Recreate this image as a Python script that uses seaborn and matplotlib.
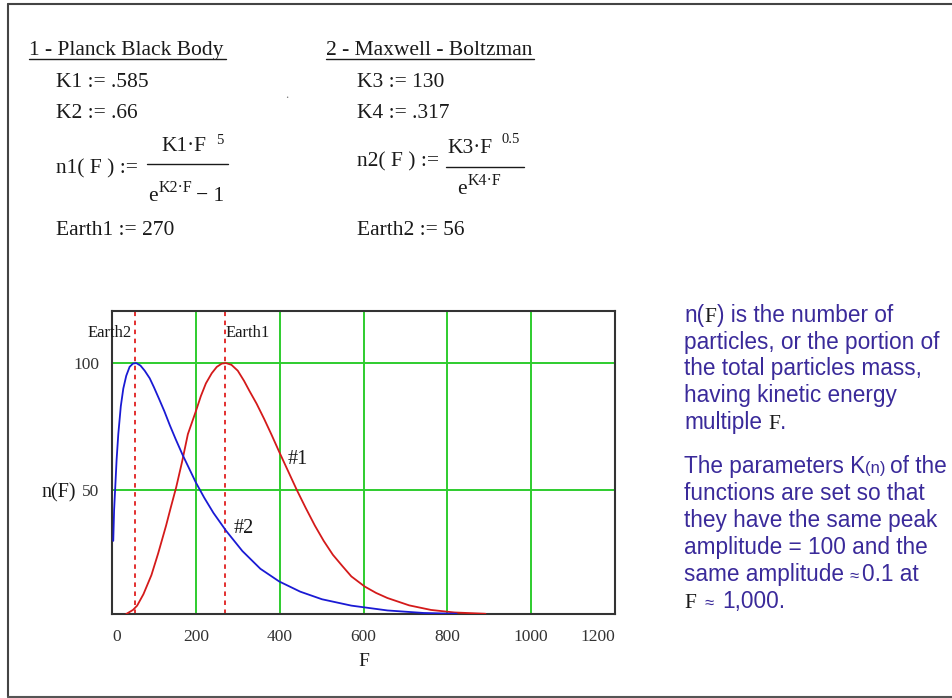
import numpy as np
import pandas as pd
import matplotlib
matplotlib.use("Agg")
import matplotlib.pyplot as plt
from matplotlib.lines import Line2D
import seaborn as sns

# ---- data ----
f_planck = [34, 50, 60, 75, 94, 110, 129, 140, 153, 167, 181, 200, 212, 224, 238, 250,
            262, 272, 285, 300, 315, 328, 345, 363, 380, 399, 420, 441, 462, 484, 505,
            527, 550, 571, 603, 630, 657, 709, 761, 817, 891]
n_planck = [1.2, 2.8, 4.5, 9, 16.5, 25, 36, 43, 51, 61, 72, 81, 87, 92, 96, 98.5,
            99.8, 100, 99.3, 97, 93, 89, 84, 78, 72, 65, 57.5, 50, 43, 36, 30,
            24.5, 20, 16, 12, 9.5, 7.5, 4.6, 2.8, 1.8, 1.3]
f_maxwell = [3, 5, 8, 11, 15, 21, 27, 34, 42, 50, 58, 68, 78, 90, 100, 112, 125, 138,
             152, 168, 184, 200, 220, 242, 272, 311, 354, 399, 449, 501, 571, 657, 744, 822]
n_maxwell = [30, 42, 52, 62, 72, 83, 90, 95, 98.5, 99.8, 100, 99, 97, 94, 90.5, 86, 81,
             75.5, 70, 64, 58.5, 53, 47, 41, 34, 26, 19, 14, 10, 7, 4.5, 2.6, 1.6, 1.3]
earth_markers = {"Earth2": 56, "Earth1": 270}
x_ticks = [0, 200, 400, 600, 800, 1000, 1200]
y_ticks = [50, 100]
curve_labels = {"#1": (420, 62), "#2": (290, 35)}

W, H = 952, 698
SERIF = "Liberation Serif"
SANS = "Liberation Sans"
INK = "#1a1a1a"
PURPLE = "#3a2a9a"

sns.set_theme(style="white")
plt.rcParams["font.family"] = [SERIF, "DejaVu Sans"]

fig = plt.figure(figsize=(W / 100, H / 100), dpi=100)
fig.patch.set_facecolor("white")
r = fig.canvas.get_renderer()

L, R, T, B = 112, 615, 311, 614
ax = fig.add_axes([L / W, 1 - B / H, (R - L) / W, (B - T) / H])

df1 = pd.DataFrame({"F": f_planck, "n": n_planck})
df2 = pd.DataFrame({"F": f_maxwell, "n": n_maxwell})

# grid
for xv in x_ticks[1:-1]:
    ax.axvline(xv, color="#2ecc2e", lw=1.4, zorder=1)
for yv in y_ticks:
    ax.axhline(yv, color="#2ecc2e", lw=1.4, zorder=1)

sns.lineplot(data=df1, x="F", y="n", ax=ax, color="#d41a1a", lw=1.3, zorder=3)
sns.lineplot(data=df2, x="F", y="n", ax=ax, color="#1a1ad4", lw=1.3, zorder=3)

for name, xv in earth_markers.items():
    ax.axvline(xv, color="#e02020", lw=1.3, ls=(0, (2.5, 2.5)), zorder=2)

ax.set_xlim(0, 1200)
ax.set_ylim(1.2, 120.5)
ax.set_xticks(x_ticks)
ax.set_yticks(y_ticks)
ax.set_xticklabels([str(v) for v in x_ticks], fontsize=12.5, color="#333333", family=SERIF)
ax.set_yticklabels([str(v) for v in y_ticks], fontsize=12.5, color="#333333", family=SERIF)
ax.tick_params(axis="both", length=0)
ax.tick_params(axis="x", pad=11)
ax.tick_params(axis="y", pad=9)
labs = ax.get_xticklabels()
labs[0].set_horizontalalignment("left")
labs[-1].set_horizontalalignment("right")
ax.set_xlabel("")
ax.set_ylabel("")
for sp in ax.spines.values():
    sp.set_color("#333333")
    sp.set_linewidth(1.5)
    sp.set_visible(True)

# marker labels inside plot
for name, xv in earth_markers.items():
    if name == "Earth2":
        ax.annotate(name, xy=(xv, 120.5), xytext=(-3, -16), textcoords="offset points",
                    fontsize=12, family=SERIF, color=INK, ha="right", va="center")
    else:
        ax.annotate(name, xy=(xv, 120.5), xytext=(0, -16), textcoords="offset points",
                    fontsize=12, family=SERIF, color=INK, ha="left", va="center")
for lab, (xv, yv) in curve_labels.items():
    ax.text(xv, yv, lab, fontsize=14.5, family=SERIF, color=INK, ha="left", va="center")


def ptext(x, y, s, **kw):
    kw.setdefault("ha", "left")
    kw.setdefault("va", "baseline")
    return fig.text(x / W, 1 - y / H, s, **kw)


def seq(x, y, parts):
    for item in parts:
        s, kw, gap = item[:3]
        dy = item[3] if len(item) > 3 else 0
        t = ptext(x, y + dy, s, **kw)
        bb = t.get_window_extent(renderer=r)
        x += bb.width + gap
    return x


# axis titles
ptext(364, 666, "F", fontsize=14, family=SERIF, color=INK, ha="center")
ptext(76, 497, "n(F)", fontsize=14.5, family=SERIF, color=INK, ha="right")

# ---- top worksheet text ----
ser = dict(family=SERIF, color=INK, fontsize=15.5)
sup = dict(family=SERIF, color=INK, fontsize=10.5)
esup = dict(family=SERIF, color=INK, fontsize=11.5)
ptext(29, 55, "1 - Planck Black Body", **ser)
ptext(326, 55, "2 - Maxwell - Boltzman", **ser)
fig.add_artist(Line2D([29 / W, 226 / W], [1 - 58.5 / H] * 2, color=INK, lw=1.0))
fig.add_artist(Line2D([326 / W, 534 / W], [1 - 58.5 / H] * 2, color=INK, lw=1.0))

ptext(56, 87, "K1 := .585", **ser)
ptext(56, 118, "K2 := .66", **ser)
ptext(357, 87, "K3 := 130", **ser)
ptext(357, 118, "K4 := .317", **ser)
ptext(56, 235, "Earth1 := 270", **ser)
ptext(357, 235, "Earth2 := 56", **ser)
ptext(285, 98, ".", family=SERIF, color="#777777", fontsize=9)

# n1 fraction
ptext(56, 173, "n1( F ) :=", **ser)
ptext(161, 151, "K1·F", **ser)
ptext(216, 144, "5", **sup)
fig.add_artist(Line2D([147 / W, 228 / W], [1 - 163.5 / H] * 2, color=INK, lw=1.0))
seq(148, 201, [("e", ser, 1), ("K2·F", esup, 4, -9), ("− 1", ser, 0)])

# n2 fraction
ptext(357, 166, "n2( F ) :=", **ser)
ptext(447, 153, "K3·F", **ser)
ptext(502, 143, "0.5", **sup)
fig.add_artist(Line2D([446 / W, 524 / W], [1 - 167 / H] * 2, color=INK, lw=1.0))
seq(457, 194, [("e", ser, 1), ("K4·F", esup, 0, -9)])

# ---- right description ----
sn = dict(family=SANS, color=PURPLE, fontsize=16.3)
sf = dict(family=SERIF, color=INK, fontsize=15.5)
sm = dict(family=SANS, color=PURPLE, fontsize=12)
X0 = 684
seq(X0, 322, [("n(", sn, 0), ("F", sf, 1), (") is the number of", sn, 0)])
ptext(X0, 349, "particles, or the portion of", **sn)
ptext(X0, 375, "the total particles mass,", **sn)
ptext(X0, 402, "having kinetic energy", **sn)
seq(X0, 429, [("multiple", sn, 6), ("F", sf, 0), (".", sn, 0)])
seq(X0, 473, [("The parameters K", sn, 0), ("(n)", sm, 4), ("of the", sn, 0)])
ptext(X0, 500, "functions are set so that", **sn)
ptext(X0, 527, "they have the same peak", **sn)
ptext(X0, 554, "amplitude = 100 and the", **sn)
seq(X0, 581, [("same amplitude", sn, 5), ("≈", sm, 4), ("0.1 at", sn, 0)])
seq(X0, 608, [("F", sf, 9), ("≈", sm, 8), ("1,000.", sn, 0)])

# page border (left, top, bottom)
fig.add_artist(Line2D([8 / W, 8 / W], [1 - 4 / H, 1 - 697 / H], color="#444444", lw=1.5))
fig.add_artist(Line2D([8 / W, 1.0], [1 - 4 / H, 1 - 4 / H], color="#444444", lw=1.5))
fig.add_artist(Line2D([8 / W, 1.0], [1 - 697 / H, 1 - 697 / H], color="#555555", lw=1.5))

fig.savefig("out.png", dpi=100)
